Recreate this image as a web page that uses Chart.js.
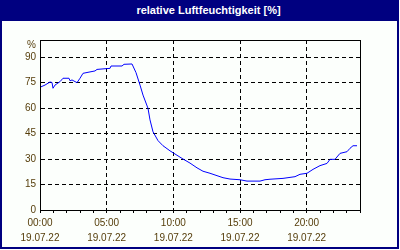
<!DOCTYPE html>
<html>
<head>
<meta charset="utf-8">
<script src="https://cdn.jsdelivr.net/npm/chart.js@4"></script>
<style>
  html, body { margin: 0; padding: 0; background: #fff; }
  #wrap { position: relative; width: 400px; height: 250px; }
  #frame { position: absolute; left: 0; top: 0; width: 399px; height: 249px; box-sizing: border-box;
           border: 2px solid #000080; background: #fcfffc; }
  #title { position: absolute; left: 0; top: 0; width: 399px; height: 21px; background: #000080; color: #fff;
           font: bold 11px "Liberation Sans", Arial, sans-serif; line-height: 20px; text-align: center;
           box-sizing: border-box; padding-left: 18px; }
  canvas { position: absolute; left: 0; top: 0; }
</style>
</head>
<body>
<div id="wrap">
  <div id="frame"></div>
  <div id="title">relative Luftfeuchtigkeit [%]</div>
  <canvas id="chart" width="400" height="250"></canvas>
</div>
<script>
// measurement times (hours since 00:00) and relative humidity in %
const hours = [0, 0.375, 0.75, 0.9, 0.975, 1.125, 1.5, 1.725, 2.175, 2.25, 2.4, 2.775, 3.0, 3.225, 3.6,
  4.125, 4.275, 4.875, 5.25, 5.325, 6.15, 6.3, 6.9, 7.2, 7.5, 7.725, 8.1, 8.25, 8.475, 8.85, 9.225,
  9.75, 10.275, 10.725, 11.25, 11.775, 12.225, 12.75, 13.275, 13.725, 14.25, 15.0, 15.525, 16.5,
  16.875, 17.25, 18.225, 19.125, 19.5, 20.025, 20.475, 21.0, 21.525, 21.75, 22.125, 22.5, 23.025,
  23.25, 23.475, 23.775];
const humidity = [72.2, 73.5, 75.3, 75, 71.6, 73.5, 75.5, 77.5, 77.5, 76, 76.5, 74.9, 77.5, 80.4, 81,
  81.8, 82.7, 83.1, 83.3, 84.7, 84.7, 85.7, 85.9, 80.8, 73.5, 67.6, 59.8, 53, 46, 40.8, 37.8,
  34.8, 32.2, 30, 27.6, 24.8, 22.8, 21.6, 20.2, 19, 18.2, 17.8, 17, 17,
  17.8, 18.1, 18.6, 19.6, 21, 21.6, 23.9, 26.1, 27.4, 29.8, 29.8, 33.3, 34.3,
  36.3, 37.8, 37.8];

const yTicks = [0, 15, 30, 45, 60, 75, 90];
const yUnit = '%';
const xLabelHours = [0, 5, 10, 15, 20];
const dateLabel = '19.07.22';

const labelColor = '#553d0a';
const hidden = 'rgba(0,0,0,0)';

// solid box around the plot area (top and right edges)
const plotFrame = {
  id: 'plotFrame',
  afterDraw(chart) {
    const { ctx, chartArea: a } = chart;
    ctx.save();
    ctx.strokeStyle = '#000';
    ctx.lineWidth = 1;
    ctx.strokeRect(a.left + 0.5, a.top + 0.5, a.right - a.left, a.bottom - a.top);
    ctx.restore();
  }
};

new Chart(document.getElementById('chart'), {
  type: 'line',
  data: {
    datasets: [{
      data: hours.map((h, i) => ({ x: h, y: humidity[i] })),
      borderColor: '#0000ff',
      borderWidth: 1,
      pointRadius: 0,
      tension: 0,
      fill: false
    }]
  },
  options: {
    responsive: false,
    animation: false,
    events: [],
    layout: { padding: { top: 40, right: 40, left: 0, bottom: 0 } },
    plugins: { legend: { display: false }, tooltip: { enabled: false } },
    scales: {
      x: {
        type: 'linear',
        min: 0,
        max: 24,
        afterBuildTicks: (scale) => {
          const t = [];
          for (let h = 0; h <= 24; h++) t.push({ value: h });
          scale.ticks = t;
        },
        afterFit: (scale) => { scale.height = 40; },
        ticks: {
          autoSkip: false,
          maxRotation: 0,
          padding: 3,
          color: labelColor,
          font: { family: '"Liberation Sans", Arial, sans-serif', size: 10, lineHeight: 1.5 },
          callback: (v) => xLabelHours.includes(v)
            ? [String(v).padStart(2, '0') + ':00', dateLabel] : ''
        },
        grid: {
          color: (c) => (c.tick && xLabelHours.includes(c.tick.value) && c.tick.value > 0) ? '#000' : hidden,
          tickColor: '#000',
          tickLength: 3,
          lineWidth: 1
        },
        border: { color: '#000', width: 1, dash: [4, 3] }
      },
      y: {
        min: 0,
        max: 100,
        afterBuildTicks: (scale) => {
          scale.ticks = yTicks.map(v => ({ value: v })).concat({ value: 100 });
        },
        afterFit: (scale) => { scale.width = 40; },
        ticks: {
          padding: 4,
          color: labelColor,
          font: { family: '"Liberation Sans", Arial, sans-serif', size: 10, lineHeight: 1 },
          callback: (v) => v === 100 ? ['', yUnit] : String(v)
        },
        grid: {
          color: (c) => (c.tick && (c.tick.value === 100 || c.tick.value === 0)) ? hidden : '#000',
          drawTicks: false,
          lineWidth: 1
        },
        border: { color: '#000', width: 1, dash: [4, 3] }
      }
    }
  },
  plugins: [plotFrame]
});
</script>
</body>
</html>
